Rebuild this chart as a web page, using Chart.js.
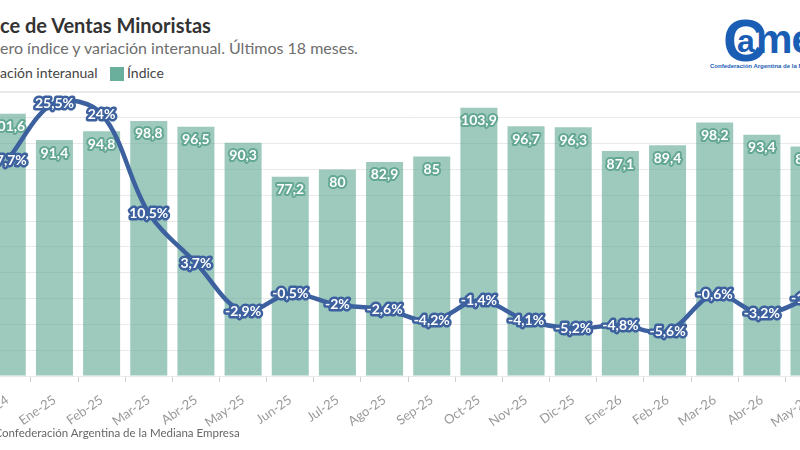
<!DOCTYPE html>
<html><head><meta charset="utf-8">
<script src="https://cdn.jsdelivr.net/npm/chart.js@4/dist/chart.umd.min.js"></script>
<style>
html,body{margin:0;padding:0;background:#fff;}
#wrap{position:relative;width:800px;height:450px;overflow:hidden;background:#fff;font-family:Lato,sans-serif;}
.cut{position:absolute;white-space:nowrap;}
#title{top:13px;font-size:20px;font-weight:700;color:#333;}
#sub{top:38px;font-size:16px;color:#6e6e6e;}
#leg{top:64px;font-size:14px;color:#444;}
#foot{top:426px;font-size:11.5px;color:#666;}
#sep{position:absolute;left:0;top:91px;width:800px;height:1px;background:#e8e8e8;}
#cbox{position:absolute;left:-40px;top:80px;width:900px;height:376px;}
#sq{position:absolute;left:110px;top:67px;width:14px;height:14px;background:#6aae9c;}
#idx{position:absolute;left:127px;top:64px;font-size:14px;color:#444;}
.lg{position:absolute;color:#1a5db5;font-family:"Liberation Sans",Arial,sans-serif;font-weight:700;white-space:nowrap;line-height:1;}
#lc{left:723px;top:11px;font-size:60px;}
#la{left:737px;top:25px;font-size:32px;}
#lme{left:756px;top:19px;font-size:41px;letter-spacing:-1px;}
#logosub{left:710px;top:63px;font-size:6px;}
</style></head>
<body>
<div id="wrap">
  <div id="title" class="cut" data-x="0"><span class="pre">Índi</span>ce de Ventas Minoristas</div>
  <div id="sub" class="cut" data-x="0"><span class="pre">Núm</span>ero índice y variación interanual. Últimos 18 meses.</div>
  <div id="leg" class="cut" data-x="0"><span class="pre"><span style="display:inline-block;width:14px;height:3px;background:#3c619e;vertical-align:middle;margin-right:5px"></span>Vari</span>ación interanual</div>
  <div id="sq"></div><div id="idx">Índice</div>
  <div id="lc" class="lg">C</div><div id="la" class="lg">a</div><div id="lme" class="lg">me</div>
  <div id="logosub" class="lg">Confederación Argentina de la Mediana Empresa</div>
  <div id="sep"></div>
  <div id="cbox"><canvas id="c"></canvas></div>
  <div id="foot" class="cut" data-x="2"><span class="pre">Fuente: C</span>onfederación Argentina de la Mediana Empresa</div>
</div>
<script>
const categories = ['Dic-24','Ene-25','Feb-25','Mar-25','Abr-25','May-25','Jun-25','Jul-25','Ago-25','Sep-25','Oct-25','Nov-25','Dic-25','Ene-26','Feb-26','Mar-26','Abr-26','May-26'];
const indexValues = [101.6,91.4,94.8,98.8,96.5,90.3,77.2,80,82.9,85,103.9,96.7,96.3,87.1,89.4,98.2,93.4,88.9];
const yoyValues = [17.7,25.5,24,10.5,3.7,-2.9,-0.5,-2,-2.6,-4.2,-1.4,-4.1,-5.2,-4.8,-5.6,-0.6,-3.2,-1.1];

document.querySelectorAll('.cut').forEach(el => {
  const pre = el.querySelector('.pre');
  el.style.left = (parseFloat(el.dataset.x) - pre.getBoundingClientRect().width) + 'px';
});

const LINE = '#3c619e';
const TEAL = '#64a893';
const fmt = v => String(v).replace('.', ',');

const labelPlugin = {
  id: 'vlabels',
  afterDatasetDraw(chart, args) {
    const ctx = chart.ctx;
    const meta = args.meta;
    const ds = chart.data.datasets[args.index];
    ctx.save();
    ctx.font = 'bold 14px Lato';
    ctx.textAlign = 'center';
    ctx.textBaseline = 'middle';
    ctx.lineJoin = 'round';
    meta.data.forEach((el, i) => {
      const v = ds.data[i];
      let x = el.x, y, txt;
      if (ds.type === 'bar') { y = el.y + 13; txt = fmt(v); ctx.strokeStyle = TEAL; ctx.lineWidth = 4; }
      else { y = el.y; txt = fmt(v) + '%'; ctx.strokeStyle = LINE; ctx.lineWidth = 5; }
      ctx.strokeText(txt, x, y);
      ctx.fillStyle = '#fff';
      ctx.fillText(txt, x, y);
    });
    ctx.restore();
  }
};

new Chart(document.getElementById('c'), {
  data: {
    labels: categories,
    datasets: [
      { type: 'line', label: 'Variación interanual', data: yoyValues, yAxisID: 'y1', borderColor: LINE, borderWidth: 4.5, pointRadius: 0, tension: 0.35, order: 0 },
      { type: 'bar', label: 'Índice', data: indexValues, yAxisID: 'y', backgroundColor: 'rgba(106,174,155,0.65)', categoryPercentage: 1, barPercentage: 0.785, order: 1 }
    ]
  },
  options: {
    responsive: true, maintainAspectRatio: false, animation: false,
    layout: { padding: { left: 23.7, right: 27.4, top: 12, bottom: 10 } },
    plugins: { legend: { display: false }, tooltip: { enabled: false } },
    scales: {
      x: {
        offset: true,
        grid: { display: true, drawOnChartArea: false, tickLength: 6, color: '#cfcfcf' },
        border: { display: false },
        ticks: { color: '#999', font: { family: 'Lato', size: 13 }, minRotation: 35, maxRotation: 35, autoSkip: false, padding: 10 },
        afterFit: s => { s.height = 70; }
      },
      y: {
        min: 0, max: 110,
        ticks: { display: false, stepSize: 10 },
        grid: { color: '#e9e9e9', drawTicks: false },
        border: { display: false },
        afterFit: s => { s.width = 0; }
      },
      y1: { display: false, min: -11.7, max: 27 }
    }
  },
  plugins: [labelPlugin]
});
</script>
</body></html>
